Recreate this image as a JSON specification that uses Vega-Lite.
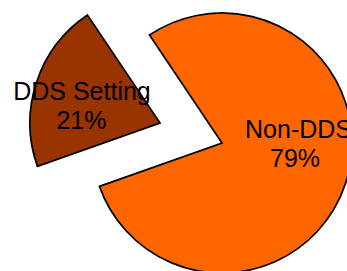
{
  "$schema": "https://vega.github.io/schema/vega-lite/v6.json",
  "width": 312,
  "height": 266,
  "autosize": "none",
  "padding": {"left": 35, "top": 0, "right": 0, "bottom": 5},
  "background": "white",
  "config": {"view": {"stroke": null}},
  "data": {"values": [
    {"category": "DDS Setting", "value": 0.21},
    {"category": "Non-DDS", "value": 0.79}
  ]},
  "encoding": {
    "theta": {"field": "value", "type": "quantitative", "stack": true, "scale": {"domain": [0, 1], "range": [4.3721, 10.6553]}},
    "order": {"field": "category", "type": "ordinal"}
  },
  "layer": [
    {
      "mark": {"type": "arc", "radius": 130, "stroke": "black", "strokeWidth": 1.75, "xOffset": -31, "yOffset": -10},
      "encoding": {
        "color": {"field": "category", "type": "nominal", "scale": {"domain": ["DDS Setting", "Non-DDS"], "range": ["#993300", "#FF6600"]}, "legend": null},
        "opacity": {"condition": {"test": "datum.category === 'DDS Setting'", "value": 1}, "value": 0}
      }
    },
    {
      "mark": {"type": "arc", "radius": 130, "stroke": "black", "strokeWidth": 1.75, "xOffset": 31, "yOffset": 10},
      "encoding": {
        "color": {"field": "category", "type": "nominal", "scale": {"domain": ["DDS Setting", "Non-DDS"], "range": ["#993300", "#FF6600"]}, "legend": null},
        "opacity": {"condition": {"test": "datum.category === 'Non-DDS'", "value": 1}, "value": 0}
      }
    },
    {
      "mark": {"type": "text", "radius": 110, "font": "Liberation Sans", "fontSize": 25, "color": "black", "align": "center", "baseline": "alphabetic", "dx": -4.6, "dy": 1.5},
      "encoding": {
        "text": {"field": "category", "type": "nominal"},
        "opacity": {"condition": {"test": "datum.category === 'DDS Setting'", "value": 1}, "value": 0}
      }
    },
    {
      "mark": {"type": "text", "radius": 110, "font": "Liberation Sans", "fontSize": 25, "color": "black", "align": "center", "baseline": "alphabetic", "dx": -5.1, "dy": 30.5},
      "encoding": {
        "text": {"field": "value", "type": "quantitative", "format": ".0%"},
        "opacity": {"condition": {"test": "datum.category === 'DDS Setting'", "value": 1}, "value": 0}
      }
    },
    {
      "mark": {"type": "text", "radius": 110, "font": "Liberation Sans", "fontSize": 25, "color": "black", "align": "center", "baseline": "alphabetic", "dx": 3.1, "dy": -29.5},
      "encoding": {
        "text": {"field": "category", "type": "nominal"},
        "opacity": {"condition": {"test": "datum.category === 'Non-DDS'", "value": 1}, "value": 0}
      }
    },
    {
      "mark": {"type": "text", "radius": 110, "font": "Liberation Sans", "fontSize": 25, "color": "black", "align": "center", "baseline": "alphabetic", "dx": -0.4, "dy": -0.5},
      "encoding": {
        "text": {"field": "value", "type": "quantitative", "format": ".0%"},
        "opacity": {"condition": {"test": "datum.category === 'Non-DDS'", "value": 1}, "value": 0}
      }
    }
  ]
}
